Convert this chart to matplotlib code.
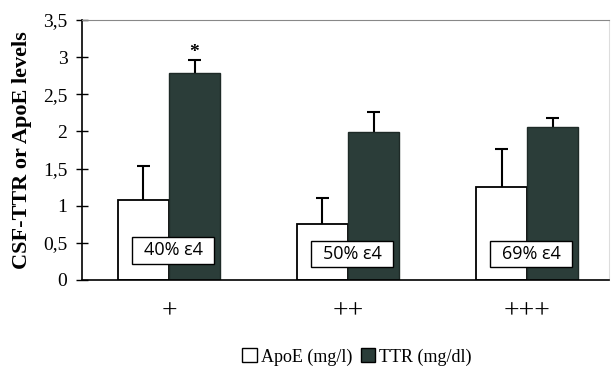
import matplotlib
matplotlib.use("Agg")
import matplotlib.pyplot as plt
from matplotlib.patches import Rectangle, Patch
import numpy as np

categories = ["+", "++", "+++"]
apoe = [1.08, 0.75, 1.25]
apoe_err = [0.45, 0.35, 0.51]
ttr = [2.78, 1.99, 2.06]
ttr_err = [0.18, 0.27, 0.12]
e4_labels = ["40% ε4", "50% ε4", "69% ε4"]
yticks = [0, 0.5, 1, 1.5, 2, 2.5, 3, 3.5]
ytick_labels = ["0", "0,5", "1", "1,5", "2", "2,5", "3", "3,5"]

serif = ["Liberation Serif", "DejaVu Serif"]
dark = "#2b3d39"

fig = plt.figure(figsize=(6.11, 3.67), dpi=100)
ax = fig.add_axes([82/611, 87/367, 527/611, 260/367])

x = np.arange(len(categories))
w = 0.285
cap = 0.035

def draw_err(xs, vals, errs):
    tops = np.array(vals) + np.array(errs)
    ax.vlines(xs, vals, tops, color="black", linewidth=1.5, zorder=1)
    ax.hlines(tops, xs - cap, xs + cap, color="black", linewidth=1.5, zorder=1)

ax.bar(x - w/2, apoe, w, color="white", edgecolor="black", linewidth=1.3, zorder=2)
ax.bar(x + w/2, ttr, w, color=dark, edgecolor="#1e2a27", linewidth=1.0, zorder=2)
draw_err(x - w/2, apoe, apoe_err)
draw_err(x + w/2, ttr, ttr_err)

# significance star
ax.text(x[0] + w/2, ttr[0] + ttr_err[0] + 0.1, "*", ha="center", va="center",
        fontsize=14, fontweight="bold", family=serif)

# e4 boxes
bw, bh = 0.458, 0.36
for i, lab in enumerate(e4_labels):
    cy = 0.40 if i == 0 else 0.35
    cx = x[i] + 0.025
    ax.add_patch(Rectangle((cx - bw/2, cy - bh/2), bw, bh, facecolor="white",
                           edgecolor="black", linewidth=1.0, zorder=3))
    ax.text(cx, cy, lab, ha="center", va="center", fontsize=13,
            family=["Open Sans", "DejaVu Sans"], zorder=4)

ax.set_xlim(-0.486, 2.458)
ax.set_ylim(0, 3.5)
ax.set_yticks(yticks)
ax.set_yticklabels(ytick_labels, family=serif, fontsize=14)
ax.tick_params(axis="y", direction="inout", length=9, width=1, pad=6)
ax.set_xticks(x)
ax.set_xticklabels(categories, family=serif, fontsize=20)
ax.tick_params(axis="x", length=0, pad=14)

ax.spines["left"].set_linewidth(1.2)
ax.spines["bottom"].set_linewidth(1.2)
ax.spines["top"].set_color("#888888")
ax.spines["right"].set_color("#dddddd")

ax.set_ylabel("CSF-TTR or ApoE levels", family=serif, fontsize=16,
              fontweight="bold", labelpad=8)

handles = [Patch(facecolor="white", edgecolor="black", label="ApoE (mg/l)"),
           Patch(facecolor=dark, edgecolor="black", label="TTR (mg/dl)")]
fig.legend(handles=handles, loc="center", bbox_to_anchor=(357/611, 1 - 357/367),
           ncol=2, frameon=False, prop={"family": serif, "size": 13},
           handlelength=0.8, handleheight=0.8, handletextpad=0.2,
           columnspacing=0.5)

fig.savefig("out.png", dpi=100)
